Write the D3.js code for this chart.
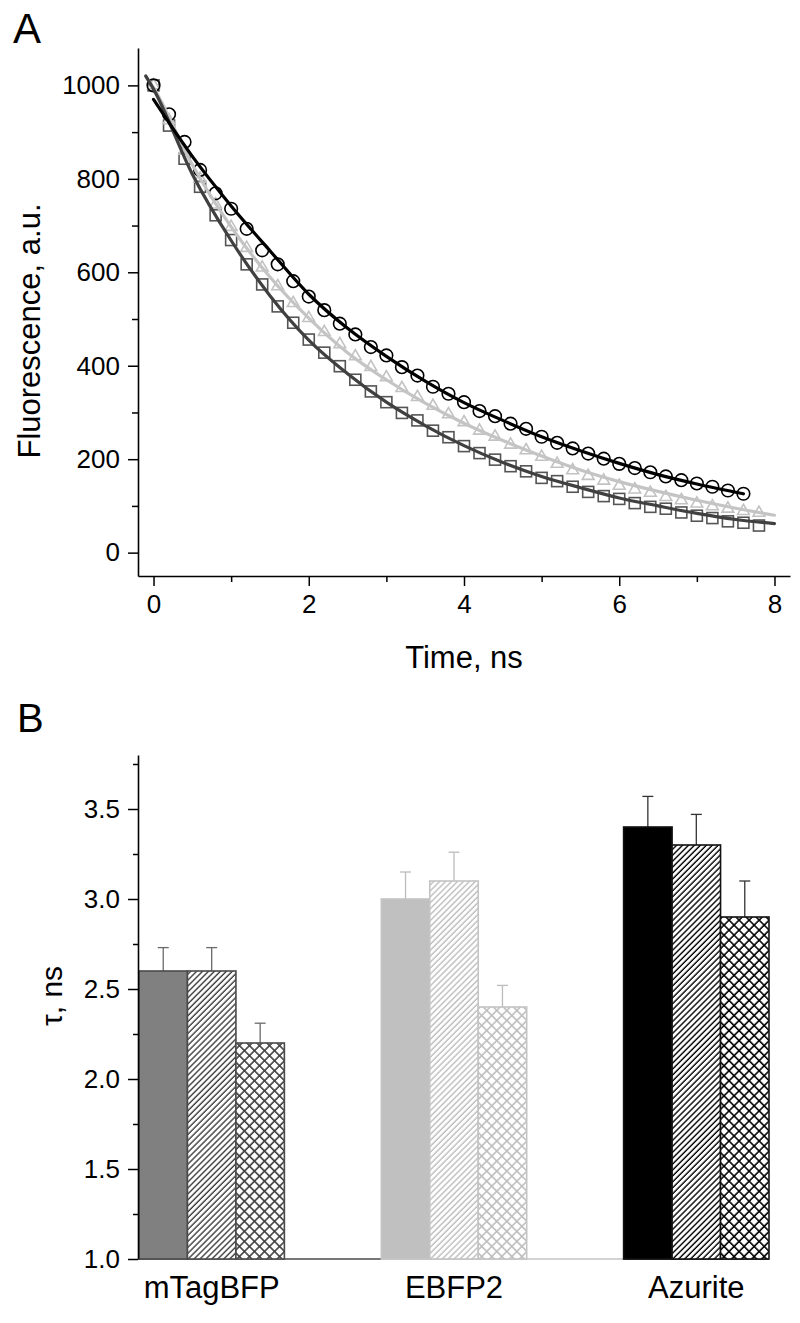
<!DOCTYPE html>
<html><head><meta charset="utf-8">
<script src="https://cdn.jsdelivr.net/npm/d3@7"></script>
<style>
body{margin:0;background:#fff}
svg{display:block}
text{font-family:"Liberation Sans",Arial,Helvetica,sans-serif;fill:#000}
</style>
</head><body>
<svg id="c" width="800" height="1323"></svg>
<script>
// ---------- Panel A data ----------
const times = [0,0.2,0.4,0.6,0.8,1.0,1.2,1.4,1.6,1.8,2.0,2.2,2.4,2.6,2.8,3.0,3.2,3.4,3.6,3.8,
               4.0,4.2,4.4,4.6,4.8,5.0,5.2,5.4,5.6,5.8,6.0,6.2,6.4,6.6,6.8,7.0,7.2,7.4,7.6,7.8];
const azuriteDecay = [1000,938,879,819,769,736,693,647,617,581,548,519,490,467,440,422,397,379,355,340,
                      322,303,292,276,265,248,235,223,212,201,190,181,172,163,155,148,141,133,126];
const ebfp2Decay   = [1000,925,860,800,745,697,652,610,570,534,502,472,446,420,397,375,352,333,314,296,
                      279,261,248,231,219,205,190,176,164,154,143,135,128,119,112,105,99,94,89,85];
const mtagDecay    = [1000,914,843,783,722,669,617,574,527,492,456,428,399,370,345,322,299,283,261,247,
                      228,213,199,185,174,160,153,141,130,121,115,106,98,94,86,79,74,67,64,58];
const fitTimesAz   = [0,0.5,1,1.5,2,2.5,3,3.5,4,4.5,5,5.5,6,6.5,7,7.6];
const fitAzurite   = [970,848,742,646,553,480,420,367,321,283,248,218,191,167,147,126];
const fitTimesLong = [-0.1,0,0.5,1,1.5,2,2.5,3,3.5,4,4.5,5,5.5,6,6.5,7,7.5,8];
const fitEbfp2     = [1020,995,830,697,590,502,428,370,320,277,240,207,177,152,131,112,95,80];
const fitMtag      = [1020,992,810,668,550,455,383,322,272,229,193,163,139,117,100,84,71,62];
const yTicksA = [0,200,400,600,800,1000];
const yMinorA = [100,300,500,700,900];
const xTicksA = [0,2,4,6,8];
const xMinorA = [1,3,5,7];

// ---------- Panel B data ----------
const categories = ["mTagBFP","EBFP2","Azurite"];
const conditions = ["condition 1","condition 2","condition 3"];
const tauValues = [[2.6,2.6,2.2],[3.0,3.1,2.4],[3.4,3.3,2.9]];
const tauErrors = [[0.13,0.13,0.11],[0.15,0.16,0.12],[0.17,0.17,0.20]];
const yTicksB = [1.0,1.5,2.0,2.5,3.0,3.5];
const yMinorB = [1.25,1.75,2.25,2.75,3.25,3.75];

// ---------- styles ----------
const groupColor = {"mTagBFP":{fill:"#808080",line:"#3c3c3c",stroke:"#4a4a4a",err:"#6a6a6a"},
                    "EBFP2":{fill:"#c0c0c0",line:"#bdbdbd",stroke:"#c4c4c4",err:"#bcbcbc"},
                    "Azurite":{fill:"#000000",line:"#000000",stroke:"#111111",err:"#333333"}};

const svg = d3.select("#c");
const defs = svg.append("defs");
categories.forEach((c,i)=>{
  const col = groupColor[c].line;
  const h = defs.append("pattern").attr("id","hatch"+i).attr("patternUnits","userSpaceOnUse")
    .attr("width",4.2).attr("height",10).attr("patternTransform","rotate(45)");
  h.append("rect").attr("width",4.2).attr("height",10).attr("fill","#fff");
  h.append("line").attr("x1",1).attr("x2",1).attr("y1",0).attr("y2",10)
    .attr("stroke",col).attr("stroke-width",1.4);
  const x = defs.append("pattern").attr("id","cross"+i).attr("patternUnits","userSpaceOnUse")
    .attr("width",7.1).attr("height",7.1).attr("patternTransform","rotate(45)");
  x.append("rect").attr("width",7.1).attr("height",7.1).attr("fill","#fff");
  x.append("line").attr("x1",1).attr("x2",1).attr("y1",0).attr("y2",7.1).attr("stroke",col).attr("stroke-width",1.6);
  x.append("line").attr("y1",1).attr("y2",1).attr("x1",0).attr("x2",7.1).attr("stroke",col).attr("stroke-width",1.6);
});

function styleAxis(g){
  g.select(".domain").attr("stroke","#000").attr("stroke-width",1.6);
  g.selectAll(".tick line").attr("stroke","#000").attr("stroke-width",1.5);
  g.selectAll(".tick text").style("font-size","26px").attr("fill","#000");
}

// ================= Panel A =================
const xA = d3.scaleLinear().domain([-0.2,8.2]).range([138,790]);
const yA = d3.scaleLinear().domain([-50,1080]).range([576,48]);

svg.append("text").attr("x",13).attr("y",43).style("font-size","42px").text("A");

const gyA = svg.append("g").attr("transform","translate(138,0)")
  .call(d3.axisLeft(yA).tickValues(yTicksA).tickFormat(d3.format("d")).tickSize(10).tickSizeOuter(0).tickPadding(8));
styleAxis(gyA);
svg.append("g").attr("transform","translate(138,0)")
  .call(d3.axisLeft(yA).tickValues(yMinorA).tickSize(6).tickSizeOuter(0).tickFormat(""))
  .call(g=>{g.select(".domain").remove();g.selectAll(".tick line").attr("stroke","#000").attr("stroke-width",1.5);});

const gxA = svg.append("g").attr("transform","translate(0,576)")
  .call(d3.axisBottom(xA).tickValues(xTicksA).tickFormat(d3.format("d")).tickSize(10).tickSizeOuter(0).tickPadding(9));
styleAxis(gxA);
svg.append("g").attr("transform","translate(0,576)")
  .call(d3.axisBottom(xA).tickValues(xMinorA).tickSize(6).tickSizeOuter(0).tickFormat(""))
  .call(g=>{g.select(".domain").remove();g.selectAll(".tick line").attr("stroke","#000").attr("stroke-width",1.5);});

svg.append("text").attr("transform","translate(40,331) rotate(-90)").attr("text-anchor","middle")
  .style("font-size","31px").text("Fluorescence, a.u.");
svg.append("text").attr("x",464).attr("y",668).attr("text-anchor","middle")
  .style("font-size","31px").text("Time, ns");

const plotA = svg.append("g");
// markers
plotA.selectAll("rect.sq").data(mtagDecay).join("rect").attr("class","sq")
  .attr("x",(d,i)=>xA(times[i])-5.5).attr("y",d=>yA(d)-5.5).attr("width",11).attr("height",11)
  .attr("fill","none").attr("stroke","#555").attr("stroke-width",1.6);
const tri = d3.symbol().type(d3.symbolTriangle).size(60);
plotA.selectAll("path.tr").data(ebfp2Decay).join("path").attr("class","tr")
  .attr("d",tri).attr("transform",(d,i)=>`translate(${xA(times[i])},${yA(d)})`)
  .attr("fill","none").attr("stroke","#c2c2c2").attr("stroke-width",1.6);
plotA.selectAll("circle.ci").data(azuriteDecay).join("circle").attr("class","ci")
  .attr("cx",(d,i)=>xA(times[i])).attr("cy",d=>yA(d)).attr("r",6.3)
  .attr("fill","none").attr("stroke","#000").attr("stroke-width",1.6);
// fit curves
const lineA = (tt)=>d3.line().x((d,i)=>xA(tt[i])).y(d=>yA(d)).curve(d3.curveMonotoneX);
plotA.append("path").datum(fitEbfp2).attr("d",lineA(fitTimesLong)).attr("fill","none")
  .attr("stroke","#c4c4c4").attr("stroke-width",3.2).attr("stroke-linecap","round");
plotA.append("path").datum(fitMtag).attr("d",lineA(fitTimesLong)).attr("fill","none")
  .attr("stroke","#404040").attr("stroke-width",3.2).attr("stroke-linecap","round");
plotA.append("path").datum(fitAzurite).attr("d",lineA(fitTimesAz)).attr("fill","none")
  .attr("stroke","#000").attr("stroke-width",3.2).attr("stroke-linecap","round");

// ================= Panel B =================
const yB = d3.scaleLinear().domain([1.0,3.8]).range([1259,755]);
const xB = d3.scaleBand().domain(categories).range([139,769]).paddingInner(0.4).paddingOuter(0);
const xSub = d3.scaleBand().domain(conditions).range([0,xB.bandwidth()]).padding(0);

svg.append("text").attr("x",17).attr("y",732).style("font-size","40px").text("B");

// baseline segments
categories.forEach((c,i)=>{
  const x0 = xB(c);
  const x1 = i<categories.length-1 ? xB(categories[i+1]) : xB(c)+xB.bandwidth();
  svg.append("line").attr("x1",x0).attr("x2",x1).attr("y1",yB(1.0)).attr("y2",yB(1.0))
    .attr("stroke",groupColor[c].stroke).attr("stroke-width",1.6);
});

const groups = svg.selectAll("g.grp").data(categories).join("g").attr("class","grp")
  .attr("transform",c=>`translate(${xB(c)},0)`);
groups.each(function(c,gi){
  const g = d3.select(this);
  const col = groupColor[c];
  conditions.forEach((k,j)=>{
    const v = tauValues[gi][j], e = tauErrors[gi][j];
    const cx = xSub(k)+xSub.bandwidth()/2;
    g.append("line").attr("x1",cx).attr("x2",cx).attr("y1",yB(v)).attr("y2",yB(v+e))
      .attr("stroke",col.err).attr("stroke-width",1.3);
    g.append("line").attr("x1",cx-5.5).attr("x2",cx+5.5).attr("y1",yB(v+e)).attr("y2",yB(v+e))
      .attr("stroke",col.err).attr("stroke-width",1.3);
    const fill = j===0 ? col.fill : (j===1 ? `url(#hatch${gi})` : `url(#cross${gi})`);
    g.append("rect").attr("x",xSub(k)).attr("y",yB(v)).attr("width",xSub.bandwidth())
      .attr("height",yB(1.0)-yB(v)).attr("fill",fill)
      .attr("stroke",col.stroke).attr("stroke-width",1.6);
  });
});

const gyB = svg.append("g").attr("transform","translate(138,0)")
  .call(d3.axisLeft(yB).tickValues(yTicksB).tickSize(10).tickSizeOuter(0).tickPadding(8).tickFormat(d3.format(".1f")));
styleAxis(gyB);
svg.append("g").attr("transform","translate(138,0)")
  .call(d3.axisLeft(yB).tickValues(yMinorB).tickSize(5).tickSizeOuter(0).tickFormat(""))
  .call(g=>{g.select(".domain").remove();g.selectAll(".tick line").attr("stroke","#000").attr("stroke-width",1.5);});

svg.selectAll("text.cat").data(categories).join("text").attr("class","cat")
  .attr("x",c=>xB(c)+xB.bandwidth()/2).attr("y",1298).attr("text-anchor","middle")
  .style("font-size","31px").text(c=>c);

svg.append("text").attr("transform","translate(62,996) rotate(-90)").attr("text-anchor","middle")
  .style("font-size","30px").text("τ, ns");
</script>
</body></html>
